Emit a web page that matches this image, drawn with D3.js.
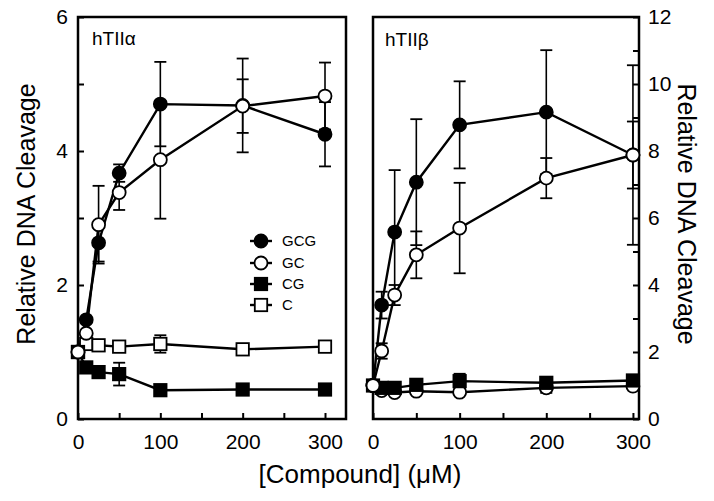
<!DOCTYPE html>
<html>
<head>
<meta charset="utf-8">
<script src="https://cdn.jsdelivr.net/npm/d3@7"></script>
<style>
html,body{margin:0;padding:0;background:#fff;}
svg{display:block;font-family:"Liberation Sans",Arial,Helvetica,sans-serif;}
</style>
</head>
<body>
<svg id="chart" width="714" height="501"></svg>
<script>
// ---------- data ----------
const conc = [0, 10, 25, 50, 100, 200, 300];
const seriesNames = ["GCG", "GC", "CG", "C"];

// hTIIα panel
const aGCG = [1.0, 1.48, 2.63, 3.67, 4.70, 4.68, 4.25];
const aGCGerr = [0, 0, 0.28, 0.13, 0.63, 0.70, 0.48];
const aGC = [1.0, 1.28, 2.90, 3.38, 3.87, 4.67, 4.82];
const aGCerr = [0, 0, 0.58, 0.26, 0.88, 0.40, 0.50];
const aCG = [1.0, 0.77, 0.70, 0.67, 0.43, 0.44, 0.44];
const aCGerr = [0, 0, 0, 0.17, 0, 0, 0];
const aC = [1.0, 1.12, 1.10, 1.08, 1.12, 1.04, 1.08];
const aCerr = [0, 0, 0, 0.05, 0.13, 0, 0];

// hTIIβ panel
const bGCG = [1.0, 3.40, 5.58, 7.07, 8.78, 9.16, 7.88];
const bGCGerr = [0, 0.40, 1.85, 1.88, 1.30, 1.85, 1.00];
const bGC = [1.0, 2.03, 3.70, 4.90, 5.70, 7.19, 7.88];
const bGCerr = [0, 0.23, 0.30, 0.70, 1.35, 0.60, 2.68];
const bCG = [1.0, 0.93, 0.93, 1.02, 1.13, 1.08, 1.15];
const bCGerr = [0, 0, 0, 0, 0.22, 0, 0];
const bC = [1.0, 0.85, 0.79, 0.83, 0.80, 0.93, 0.98];
const bCerr = [0, 0, 0, 0, 0, 0.15, 0];

const xTicksMajor = [0, 100, 200, 300];
const xTicksAll = [0, 50, 100, 150, 200, 250, 300];
const yTicksLeftLabels = [0, 2, 4, 6];
const yTicksRightLabels = [0, 2, 4, 6, 8, 10, 12];

// ---------- drawing ----------
const svg = d3.select("#chart");
const FONT = '"Liberation Sans",Arial,Helvetica,sans-serif';

const panels = [
  { label: "hTIIα", x0: 78, x1: 346, xmax: 325.5, ymax: 6, side: "left",
    labelX: 92, labelY: 45,
    series: [
      { name: "C", v: aC, e: aCerr, shape: "square", fill: "#fff" },
      { name: "CG", v: aCG, e: aCGerr, shape: "square", fill: "#000" },
      { name: "GCG", v: aGCG, e: aGCGerr, shape: "circle", fill: "#000" },
      { name: "GC", v: aGC, e: aGCerr, shape: "circle", fill: "#fff" }
    ] },
  { label: "hTIIβ", x0: 373, x1: 639, xmax: 307, ymax: 12, side: "right",
    labelX: 385, labelY: 46,
    series: [
      { name: "C", v: bC, e: bCerr, shape: "circle", fill: "#fff" },
      { name: "CG", v: bCG, e: bCGerr, shape: "square", fill: "#000" },
      { name: "GCG", v: bGCG, e: bGCGerr, shape: "circle", fill: "#000" },
      { name: "GC", v: bGC, e: bGCerr, shape: "circle", fill: "#fff" }
    ] }
];

const yTop = 17, yBot = 419;

function drawMarker(g, shape, cx, cy, fill) {
  if (shape === "circle") {
    g.append("circle").attr("cx", cx).attr("cy", cy).attr("r", 6.5)
      .attr("fill", fill).attr("stroke", "#000").attr("stroke-width", 1.8);
  } else {
    g.append("rect").attr("x", cx - 6.2).attr("y", cy - 6.2)
      .attr("width", 12.4).attr("height", 12.4)
      .attr("fill", fill).attr("stroke", "#000").attr("stroke-width", 1.8);
  }
}

panels.forEach(p => {
  const x = d3.scaleLinear().domain([0, p.xmax]).range([p.x0, p.x1]);
  const y = d3.scaleLinear().domain([0, p.ymax]).range([yBot, yTop]);
  const g = svg.append("g");

  // inner ticks bottom
  const bt = g.append("g").attr("transform", `translate(0,${yBot})`)
    .call(d3.axisBottom(x).tickValues(xTicksAll).tickSize(-6).tickFormat(""));
  bt.select(".domain").remove();
  bt.selectAll("line").attr("stroke", "#000").attr("stroke-width", 2);

  // x labels
  const bl = g.append("g").attr("transform", `translate(0,${yBot})`)
    .call(d3.axisBottom(x).tickValues(xTicksMajor).tickSize(0).tickPadding(15).tickFormat(d3.format("d")));
  bl.select(".domain").remove();
  bl.selectAll("text").attr("font-size", 21).attr("font-family", FONT).attr("fill", "#000");

  // y ticks
  const yTickVals = d3.range(0, p.ymax + 1, 1);
  if (p.side === "left") {
    const lt = g.append("g").attr("transform", `translate(${p.x0},0)`)
      .call(d3.axisLeft(y).tickValues(yTickVals).tickSize(-6).tickFormat(""));
    lt.select(".domain").remove();
    lt.selectAll("line").attr("stroke", "#000").attr("stroke-width", 2);
    const ll = g.append("g").attr("transform", `translate(${p.x0},0)`)
      .call(d3.axisLeft(y).tickValues(yTicksLeftLabels).tickSize(0).tickPadding(10).tickFormat(d3.format("d")));
    ll.select(".domain").remove();
    ll.selectAll("text").attr("font-size", 21).attr("font-family", FONT).attr("fill", "#000");
  } else {
    const rt = g.append("g").attr("transform", `translate(${p.x1},0)`)
      .call(d3.axisRight(y).tickValues(yTickVals).tickSize(-6).tickFormat(""));
    rt.select(".domain").remove();
    rt.selectAll("line").attr("stroke", "#000").attr("stroke-width", 2);
    const rl = g.append("g").attr("transform", `translate(${p.x1},0)`)
      .call(d3.axisRight(y).tickValues(yTicksRightLabels).tickSize(0).tickPadding(9).tickFormat(d3.format("d")));
    rl.select(".domain").remove();
    rl.selectAll("text").attr("font-size", 21).attr("font-family", FONT).attr("fill", "#000");
  }

  // frame
  g.append("rect").attr("x", p.x0).attr("y", yTop)
    .attr("width", p.x1 - p.x0).attr("height", yBot - yTop)
    .attr("fill", "none").attr("stroke", "#000").attr("stroke-width", 2.5);

  // panel label
  g.append("text").attr("x", p.labelX).attr("y", p.labelY)
    .attr("font-size", 19).attr("font-family", FONT).text(p.label);

  const line = d3.line().x((d, i) => x(conc[i])).y(d => y(d));

  // lines
  p.series.forEach(s => {
    g.append("path").datum(s.v).attr("d", line)
      .attr("fill", "none").attr("stroke", "#000").attr("stroke-width", 2.4);
  });
  // error bars
  p.series.forEach(s => {
    s.v.forEach((v, i) => {
      const e = s.e[i];
      if (!e) return;
      const cx = x(conc[i]);
      g.append("line").attr("x1", cx).attr("x2", cx).attr("y1", y(v - e)).attr("y2", y(v + e))
        .attr("stroke", "#000").attr("stroke-width", 1.6);
      [v - e, v + e].forEach(t => {
        g.append("line").attr("x1", cx - 6).attr("x2", cx + 6).attr("y1", y(t)).attr("y2", y(t))
          .attr("stroke", "#000").attr("stroke-width", 1.8);
      });
    });
  });
  // markers
  p.series.forEach(s => {
    s.v.forEach((v, i) => drawMarker(g, s.shape, x(conc[i]), y(v), s.fill));
  });
});

// legend
const legendItems = [
  { name: seriesNames[0], shape: "circle", fill: "#000" },
  { name: seriesNames[1], shape: "circle", fill: "#fff" },
  { name: seriesNames[2], shape: "square", fill: "#000" },
  { name: seriesNames[3], shape: "square", fill: "#fff" }
];
const legendY = [241, 263, 284, 305];
const lg = svg.append("g");
legendItems.forEach((it, i) => {
  const yy = legendY[i];
  lg.append("line").attr("x1", 250).attr("x2", 272).attr("y1", yy).attr("y2", yy)
    .attr("stroke", "#000").attr("stroke-width", 2.4);
  drawMarker(lg, it.shape, 261, yy, it.fill);
  lg.append("text").attr("x", 282).attr("y", yy).attr("dy", "0.35em")
    .attr("font-size", 15).attr("font-family", FONT).text(it.name);
});

// axis titles
svg.append("text").attr("transform", "translate(35,214) rotate(-90)")
  .attr("text-anchor", "middle").attr("font-size", 25).attr("font-family", FONT)
  .text("Relative DNA Cleavage");
svg.append("text").attr("transform", "translate(678,214) rotate(90)")
  .attr("text-anchor", "middle").attr("font-size", 25).attr("font-family", FONT)
  .text("Relative DNA Cleavage");
svg.append("text").attr("x", 360).attr("y", 483)
  .attr("text-anchor", "middle").attr("font-size", 26).attr("font-family", FONT)
  .text("[Compound] (μM)");
</script>
</body>
</html>
